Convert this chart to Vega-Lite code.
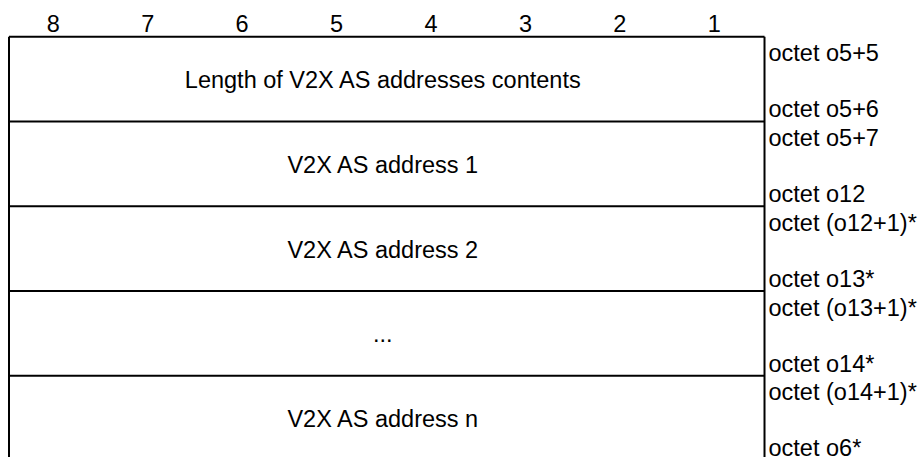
{
  "$schema": "https://vega.github.io/schema/vega-lite/v6.json",
  "width": 921,
  "height": 457,
  "padding": 0,
  "autosize": {"type": "none"},
  "background": "white",
  "config": {"view": {"stroke": null}, "text": {"font": "Liberation Sans", "fontSize": 23.5, "color": "black"}},
  "datasets": {
    "lines": [
      {"x": 0, "x2": 8, "y": 0, "y2": 0},
      {"x": 0, "x2": 8, "y": 1, "y2": 1},
      {"x": 0, "x2": 8, "y": 2, "y2": 2},
      {"x": 0, "x2": 8, "y": 3, "y2": 3},
      {"x": 0, "x2": 8, "y": 4, "y2": 4},
      {"x": 0, "x2": 0, "y": 0, "y2": 5},
      {"x": 8, "x2": 8, "y": 0, "y2": 5}
    ],
    "bits": [
      {"col": 0.5, "label": "8"},
      {"col": 1.5, "label": "7"},
      {"col": 2.5, "label": "6"},
      {"col": 3.5, "label": "5"},
      {"col": 4.5, "label": "4"},
      {"col": 5.5, "label": "3"},
      {"col": 6.5, "label": "2"},
      {"col": 7.5, "label": "1"}
    ],
    "fields": [
      {"row": 0.5, "label": "Length of V2X AS addresses contents"},
      {"row": 1.5, "label": "V2X AS address 1"},
      {"row": 2.5, "label": "V2X AS address 2"},
      {"row": 3.5, "label": "..."},
      {"row": 4.5, "label": "V2X AS address n"}
    ],
    "octets": [
      {"pos": 0.19, "label": "octet o5+5"},
      {"pos": 0.85, "label": "octet o5+6"},
      {"pos": 1.19, "label": "octet o5+7"},
      {"pos": 1.85, "label": "octet o12"},
      {"pos": 2.19, "label": "octet (o12+1)*"},
      {"pos": 2.85, "label": "octet o13*"},
      {"pos": 3.19, "label": "octet (o13+1)*"},
      {"pos": 3.85, "label": "octet o14*"},
      {"pos": 4.19, "label": "octet (o14+1)*"},
      {"pos": 4.85, "label": "octet o6*"}
    ]
  },
  "layer": [
    {
      "data": {"name": "lines"},
      "mark": {"type": "rule", "stroke": "black", "strokeWidth": 2, "clip": true},
      "encoding": {
        "x": {"field": "x", "type": "quantitative", "scale": {"domain": [-0.0953, 9.657], "nice": false, "zero": false}, "axis": null},
        "x2": {"field": "x2"},
        "y": {"field": "y", "type": "quantitative", "scale": {"domain": [-0.433, 4.959], "reverse": true, "nice": false, "zero": false}, "axis": null},
        "y2": {"field": "y2"}
      }
    },
    {
      "data": {"name": "bits"},
      "mark": {"type": "text", "align": "center", "baseline": "middle", "dx": -3, "dy": 1.5},
      "encoding": {
        "x": {"field": "col", "type": "quantitative"},
        "y": {"datum": -0.158, "type": "quantitative"},
        "text": {"field": "label"}
      }
    },
    {
      "data": {"name": "fields"},
      "mark": {"type": "text", "align": "center", "baseline": "middle", "dx": -4, "dy": 2},
      "encoding": {
        "x": {"datum": 4, "type": "quantitative"},
        "y": {"field": "row", "type": "quantitative"},
        "text": {"field": "label"}
      }
    },
    {
      "data": {"name": "octets"},
      "mark": {"type": "text", "align": "left", "baseline": "middle", "dx": 4, "dy": 1.5},
      "encoding": {
        "x": {"datum": 8, "type": "quantitative"},
        "y": {"field": "pos", "type": "quantitative"},
        "text": {"field": "label"}
      }
    }
  ]
}
